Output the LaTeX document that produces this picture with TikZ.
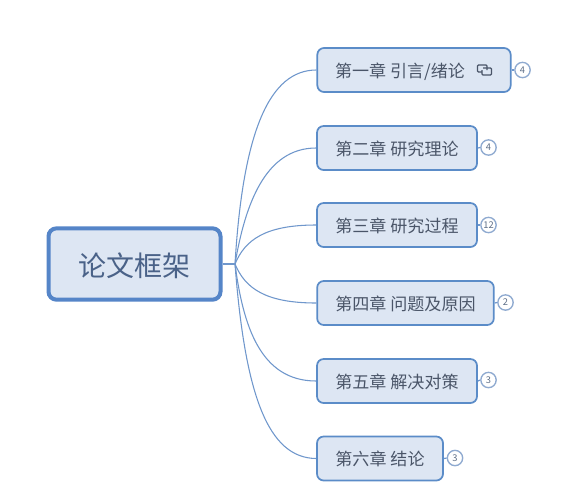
\documentclass[tikz,border=0pt]{standalone}
\usepackage{fontspec}
\setmainfont{Noto Sans CJK SC}
\definecolor{boxfill}{HTML}{DDE6F3}
\definecolor{boxline}{HTML}{5B8CC8}
\definecolor{rootline}{HTML}{5585C8}
\definecolor{linkline}{HTML}{6F97CC}
\definecolor{badge}{HTML}{8FAAD0}
\definecolor{inktext}{HTML}{4A5568}
\definecolor{roottext}{HTML}{4A6288}
\newcommand{\chaptext}[1]{\raisebox{-5.4pt}[0pt][0pt]{#1}}
\tikzset{
  px/.style={x=0.75pt,y=-0.75pt},
  rootbox/.style={draw=rootline,fill=boxfill,line width=3pt,rounded corners=6pt,
    minimum width=129pt,minimum height=53.5pt,inner sep=0pt,text=roottext,font=\fontsize{21}{25}\selectfont},
  chapbox/.style={draw=boxline,fill=boxfill,line width=1.3pt,rounded corners=5pt,
    minimum height=33pt,inner sep=0pt,text=inktext,font=\fontsize{12.8}{15}\selectfont},
  badgenode/.style={circle,draw=badge,fill=white,line width=1pt,minimum size=11.5pt,inner sep=0pt,
    text=badge!65!black,font=\fontsize{7}{8}\selectfont},
  branch/.style={draw=linkline,line width=0.8pt},
  stub/.style={draw=linkline,line width=0.9pt},
  iconline/.style={draw=inktext,line width=0.9pt,rounded corners=0.8pt}
}
\begin{document}
\begin{tikzpicture}[px]
\useasboundingbox (0,0) rectangle (577,500);
\fill[white] (0,0) rectangle (577,500);
\coordinate (hub) at (235,264);
\node[rootbox] (root) at (134.5,264) {\raisebox{-9.1pt}[0pt][0pt]{论文框架}};
\node[chapbox,minimum width=145pt] (c1) at (414,70) {\hspace{-21pt}\chaptext{第一章 引言/绪论}};
\node[chapbox,minimum width=120pt] (c2) at (397,148) {\chaptext{第二章 研究理论}};
\node[chapbox,minimum width=120pt] (c3) at (397,225) {\chaptext{第三章 研究过程}};
\node[chapbox,minimum width=132.5pt] (c4) at (405.5,303) {\chaptext{第四章 问题及原因}};
\node[chapbox,minimum width=120pt] (c5) at (397,381) {\chaptext{第五章 解决对策}};
\node[chapbox,minimum width=94.5pt] (c6) at (380,458.5) {\chaptext{第六章 结论}};
\node[badgenode] (b1) at (522.5,70) {4};
\node[badgenode] (b2) at (488.5,147.5) {4};
\node[badgenode] (b3) at (488.5,225) {12};
\node[badgenode] (b4) at (505.5,302.5) {2};
\node[badgenode] (b5) at (488.5,380) {3};
\node[badgenode] (b6) at (455,458) {3};
\draw[stub] (root.east) -- (hub);
\draw[branch] (hub) .. controls (243,130) and (270,70) .. (c1.west);
\draw[branch] (hub) .. controls (245,205) and (265,148) .. (c2.west);
\draw[branch] (hub) .. controls (245,240) and (265,225) .. (c3.west);
\draw[branch] (hub) .. controls (245,288) and (265,303) .. (c4.west);
\draw[branch] (hub) .. controls (243,325) and (260,381) .. (c5.west);
\draw[branch] (hub) .. controls (245,395) and (268,458) .. (c6.west);
\draw[stub] (c1.east) -- (b1.west);
\draw[stub] (c2.east) -- (b2.west);
\draw[stub] (c3.east) -- (b3.west);
\draw[stub] (c4.east) -- (b4.west);
\draw[stub] (c5.east) -- (b5.west);
\draw[stub] (c6.east) -- (b6.west);
\draw[iconline] (482,72) -- (477.5,72) -- (477.5,65) -- (487,65) -- (487,70);
\draw[iconline] (483,68) -- (491.5,68) -- (491.5,75) -- (482,75) -- (482,70);
\end{tikzpicture}
\end{document}
